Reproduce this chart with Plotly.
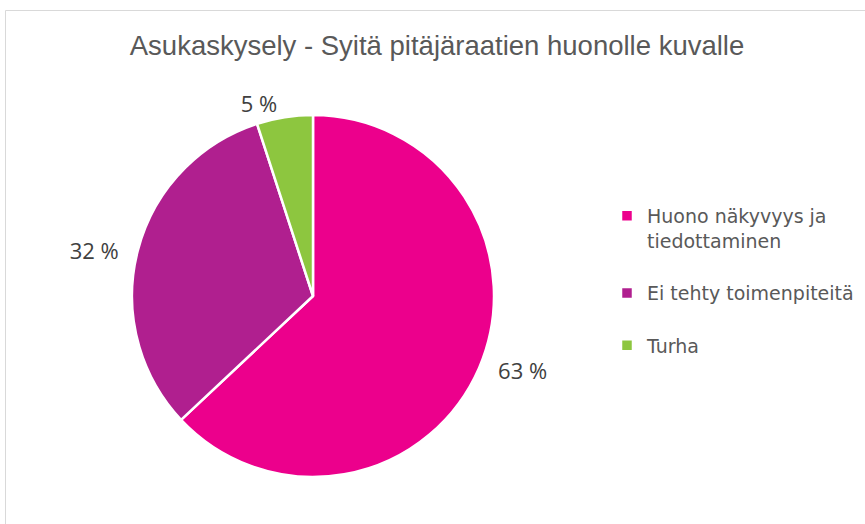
import plotly.graph_objects as go

# Survey data: reasons for the poor image of the parish councils
categories = ["Huono näkyvyys ja<br>tiedottaminen<br> ", "Ei tehty toimenpiteitä<br> ", "Turha"]
shares = [63, 32, 5]
colors = ["#EC008C", "#B01F8F", "#8DC63F"]

title_text = "Asukaskysely - Syitä pitäjäraatien huonolle kuvalle"

# Side labels get a little breathing room from the pie edge
NB = "\u00a0"
label_templates = [NB * 2 + "%{value} %" + NB * 2, NB * 2 + "%{value} %" + NB * 2, "%{value} %"]

W, H = 865, 524
cx, cy, r = 313, 296, 181

fig = go.Figure(
    go.Pie(
        labels=categories,
        values=shares,
        sort=False,
        direction="clockwise",
        rotation=0,
        marker=dict(colors=colors, line=dict(color="white", width=2.5)),
        texttemplate=label_templates,
        textposition="outside",
        textfont=dict(family="Open Sans", size=22, color="#404040"),
        domain=dict(x=[(cx - r) / W, (cx + r) / W], y=[(H - cy - r) / H, (H - cy + r) / H]),
        hoverinfo="label+percent",
    )
)

fig.update_layout(
    width=W,
    height=H,
    margin=dict(l=0, r=0, t=0, b=0),
    paper_bgcolor="white",
    plot_bgcolor="white",
    title=dict(
        text=title_text,
        x=437 / W,
        xanchor="center",
        y=1 - 45 / H,
        yanchor="middle",
        yref="container",
        font=dict(family="Liberation Sans, Arial, sans-serif", size=27.5, color="#595959"),
    ),
    legend=dict(
        x=607 / W,
        y=1 - 197 / H,
        xanchor="left",
        yanchor="top",
        valign="top",
        font=dict(family="DejaVu Sans", size=19, color="#595959"),
        bgcolor="rgba(0,0,0,0)",
    ),
    shapes=[
        dict(
            type="rect",
            xref="paper",
            yref="paper",
            x0=5.5 / W,
            x1=1.05,
            y0=-0.05,
            y1=1 - 10.5 / H,
            line=dict(color="#D9D9D9", width=1),
            fillcolor="rgba(0,0,0,0)",
            layer="below",
        )
    ],
)

fig.write_html("out.html")
